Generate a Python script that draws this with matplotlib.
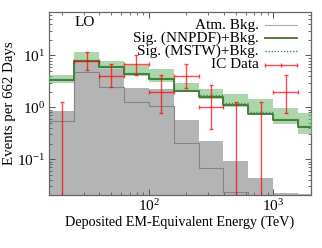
import numpy as np
import matplotlib
matplotlib.use("Agg")
import matplotlib.pyplot as plt

# ---- data ----
edge_exponents = [1.2, 1.4, 1.6, 1.8, 2.0, 2.2, 2.4, 2.6, 2.8, 3.0, 3.2, 3.4]
atm_central = [0.55, 4.9, 2.42, 1.26, 1.08, 0.21, 0.067, 0.023, 0.015, 0.008, 0.005]
atm_upper = [0.84, 7.7, 5.5, 2.4, 2.3, 0.57, 0.225, 0.093, 0.043, 0.0227, 0.021]
sig_nnpdf = [3.4, 8.0, 5.9, 4.4, 3.5, 2.05, 1.55, 1.12, 0.76, 0.56, 0.41]
sig_mstw = [3.5, 8.3, 6.2, 4.6, 3.7, 2.15, 1.7, 1.24, 0.83, 0.59, 0.43]
band_lo = [3.0, 7.7, 5.5, 4.0, 3.1, 1.95, 1.45, 1.02, 0.73, 0.48, 0.31]
band_hi = [4.2, 11.8, 8.0, 6.6, 5.4, 3.0, 2.3, 1.85, 1.48, 0.96, 0.77]

data_center_exponents = [1.3, 1.5, 1.7, 1.9, 2.1, 2.3, 2.5, 2.7, 2.9, 3.1]
ic_data = [0, 8, 4, 7, 2, 4, 1, 0, 0, 2]
ic_hi = [1.29, 11.6, 6.8, 10.1, 4.2, 6.8, 2.7, 1.29, 1.29, 4.2]
ic_lo = [0, 5.3, 2.45, 4.2, 0.77, 2.34, 0.38, 0, 0, 0.77]

labels = ["Atm. Bkg.", "Sig. (NNPDF)+Bkg.", "Sig. (MSTW)+Bkg.", "IC Data"]

# ---- style ----
plt.rcParams['font.family'] = ['Liberation Serif', 'DejaVu Serif']
plt.rcParams['mathtext.fontset'] = 'stix'
fs = 11

fig = plt.figure(figsize=(3.22, 2.48), dpi=100)
ax = fig.add_axes([0.153, 0.214, 0.812, 0.739])

edges = 10 ** np.array(edge_exponents)
def stepify(vals):
    return np.append(vals, vals[-1])

green_dark = '#46702c'
green_dot = '#2f9a55'

# background
ax.fill_between(edges, 1e-5, stepify(atm_upper), step='post',
                color='#b4b4b4', lw=0, zorder=1)
ax.step(edges, stepify(atm_central), where='post', color='#858585', lw=0.8, zorder=2)

# signal band
ax.fill_between(edges, stepify(band_lo), stepify(band_hi), step='post',
                color='#77bb77', alpha=0.6, lw=0, zorder=3)
ax.step(edges, stepify(sig_nnpdf), where='post', color=green_dark, lw=1.3, zorder=4)
ax.step(edges, stepify(sig_mstw), where='post', color=green_dot, lw=1.0,
        ls=(0, (1, 1.2)), zorder=5)

# data
centers = 10 ** np.array(data_center_exponents)
ic_data = np.array(ic_data, float)
yerr = [ic_data - np.array(ic_lo), np.array(ic_hi) - ic_data]
exps = np.array(data_center_exponents)
xl = centers - 10 ** (exps - 0.1)
xr = 10 ** (exps + 0.1) - centers
ax.errorbar(centers, ic_data, yerr=yerr, xerr=[xl, xr], fmt='none',
            ecolor='red', elinewidth=1.0, capsize=1.6, capthick=1.0,
            alpha=0.7, zorder=6)

ax.set_xscale('log')
ax.set_yscale('log')
ax.set_xlim(10 ** 1.2, 2000)
ax.set_ylim(0.0205, 70)

for s in ax.spines.values():
    s.set_color('#666666')
    s.set_linewidth(0.9)
ax.tick_params(which='both', direction='in', top=True, right=True,
               colors='#555555', labelcolor='black', labelsize=fs)
ax.tick_params(which='major', length=4, width=0.7)
ax.tick_params(which='minor', length=2, width=0.6)
ax.tick_params(axis='x', which='major', pad=2)
ax.tick_params(axis='y', which='major', pad=3)

ax.set_xlabel("Deposited EM-Equivalent Energy (TeV)", fontsize=10.2, labelpad=1.5)
ax.set_ylabel("Events per 662 Days", fontsize=10.7, labelpad=1)

ax.text(0.095, 0.975, "LO", transform=ax.transAxes, fontsize=fs,
        ha='left', va='top')

# manual gnuplot-style key
row_y = [0.925, 0.855, 0.783, 0.711]
tx = 0.802
h0, h1 = 0.825, 0.948
tr = ax.transAxes
for lab, y in zip(labels, row_y):
    ax.text(tx, y, lab, transform=tr, fontsize=fs, ha='right', va='center', zorder=8)
ax.plot([h0, h1], [row_y[0]] * 2, transform=tr, color='#aaaaaa', lw=0.8, zorder=8)
ax.plot([h0, h1], [row_y[1]] * 2, transform=tr, color=green_dark, lw=1.3, zorder=8)
ax.plot([h0, h1], [row_y[2]] * 2, transform=tr, color=green_dot, lw=1.0,
        ls=(0, (1, 1.2)), zorder=8)
ax.plot([h0, h1], [row_y[3]] * 2, transform=tr, color='red', lw=1.0, alpha=0.7, zorder=8)
ax.plot([h0, (h0 + h1) / 2, h1], [row_y[3]] * 3, transform=tr, ls='none',
        marker='|', markersize=3.5, markeredgewidth=1.0, color='red', alpha=0.7, zorder=8)

fig.savefig("out.png", dpi=100)
